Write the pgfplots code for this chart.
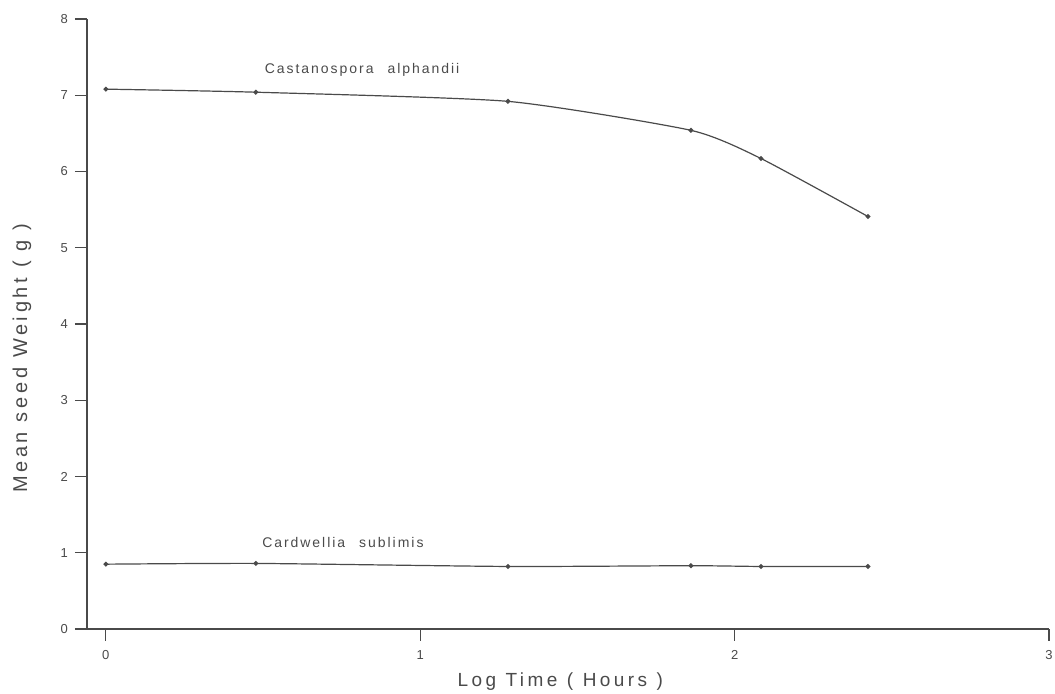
\documentclass[border=0pt]{standalone}
\usepackage{pgfplots}
\pgfplotsset{compat=1.18}
\usepackage{fontspec}
\setmainfont{Liberation Sans}
\newfontfamily\spc[LetterSpace=14]{Liberation Sans}
\newfontfamily\spcb[LetterSpace=18]{Liberation Sans}
\definecolor{ink}{HTML}{4A4A4A}
\begin{document}
\begin{tikzpicture}
\begin{axis}[
  scale only axis, width=481pt, height=305pt,
  xmin=-0.06, xmax=3, ymin=0, ymax=8,
  axis x line*=bottom, axis y line*=left,
  xtick={0,1,2,3}, ytick={0,1,2,3,4,5,6,7,8},
  tick align=outside, major tick length=6pt,
  tick style={ink, line width=0.6pt},
  axis line style={ink, line width=0.8pt},
  ticklabel style={font=\fontsize{6.5}{7}\selectfont, text=ink},
  /pgf/number format/assume math mode=true,
  xticklabel style={yshift=-1pt},
  clip=false,
]
\addplot[ink, line width=0.6pt, smooth, tension=0.35, mark=*, mark size=0.9pt] coordinates {
  (0,7.08) (0.477,7.04) (1.279,6.92) (1.861,6.54) (2.084,6.17) (2.424,5.41)
};
\addplot[ink, line width=0.6pt, smooth, tension=0.35, mark=*, mark size=0.9pt] coordinates {
  (0,0.85) (0.477,0.86) (1.279,0.82) (1.861,0.83) (2.084,0.82) (2.424,0.82)
};
\node[text=ink, font=\spc\fontsize{7}{8}\selectfont] at (axis cs:0.815,7.33) {Castanospora\quad alphandii};
\node[text=ink, font=\spc\fontsize{7}{8}\selectfont] at (axis cs:0.754,1.13) {Cardwellia\quad sublimis};
\node[text=ink, font=\spcb\fontsize{9.5}{10}\selectfont] at (rel axis cs:0.492,-0.087) {Log\enspace Time\enspace (\enspace Hours\enspace )};
\node[text=ink, font=\spcb\fontsize{10}{11}\selectfont, rotate=90] at (rel axis cs:-0.0676,0.444) {Mean\enspace seed\enspace Weight\enspace (\enspace g\enspace )};
\coordinate (BL) at (rel axis cs:0,0);
\end{axis}
\pgfresetboundingbox
\path[use as bounding box] ([shift={(-43.5pt,-32.5pt)}]BL) rectangle ++(527.5pt,347pt);
\end{tikzpicture}
\end{document}
